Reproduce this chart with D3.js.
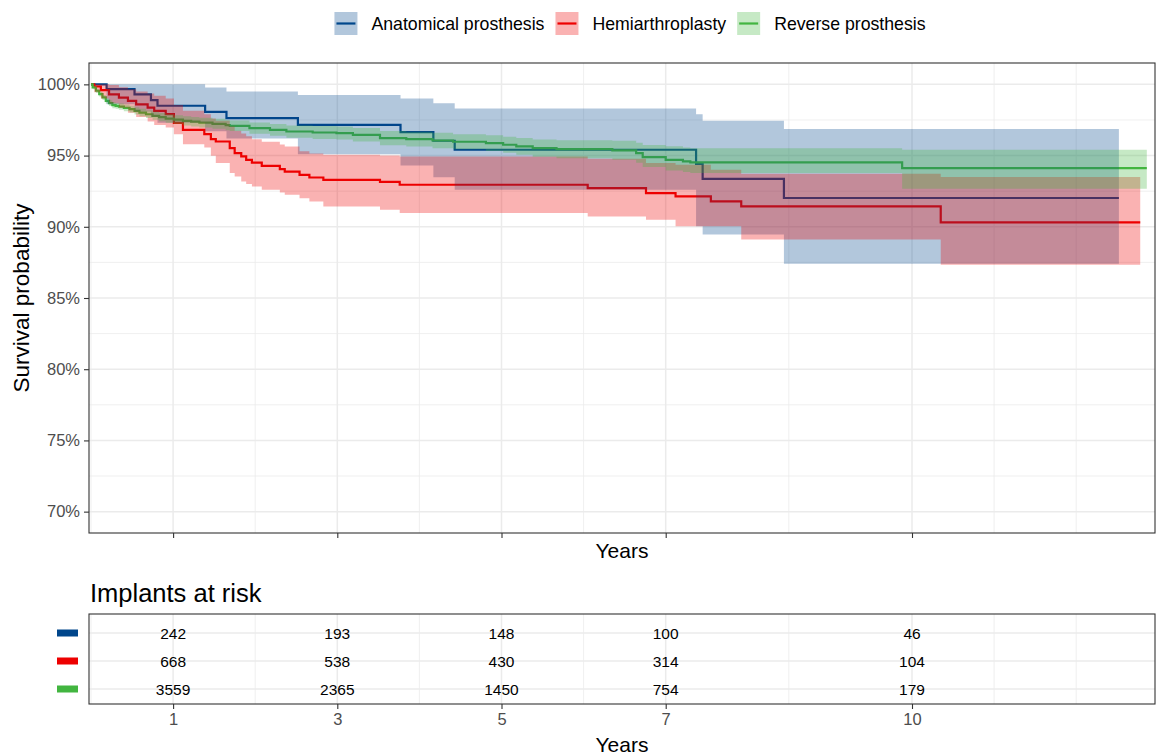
<!DOCTYPE html>
<html>
<head>
<meta charset="utf-8">
<script src="https://cdn.jsdelivr.net/npm/d3@7"></script>
<style>
  body { margin: 0; background: #fff; }
  text { font-family: "Liberation Sans", Arial, sans-serif; }
</style>
</head>
<body>
<svg id="chart" width="1156" height="756"></svg>
<script>
// ---- Kaplan-Meier estimates with 95% confidence bands (time in years) ----
const groups = ["Anatomical prosthesis", "Hemiarthroplasty", "Reverse prosthesis"];
const colors = ["#00468B", "#ED0000", "#42B540"];

const anatTime  = [0, 0.19, 0.53, 0.73, 0.81, 1.39, 1.65, 2.52, 3.77, 4.17, 4.43, 7.37, 7.45, 8.44, 12.52];
const anatSurv  = [1, 0.9966, 0.9930, 0.9890, 0.9850, 0.9807, 0.9763, 0.9716, 0.9665, 0.9604, 0.9541, 0.9442, 0.9337, 0.9202, 0.9202];
const anatUpper = [1, 1, 1, 1, 1, 0.9978, 0.9950, 0.9926, 0.9900, 0.9868, 0.9830, 0.9790, 0.9744, 0.9686, 0.9686];
const anatLower = [1, 0.9860, 0.9810, 0.9770, 0.9730, 0.9670, 0.9620, 0.9510, 0.9430, 0.9347, 0.9260, 0.9003, 0.8945, 0.8740, 0.8740];

const hemiTime  = [0, 0.04, 0.12, 0.22, 0.34, 0.45, 0.55, 0.69, 0.77, 0.91, 1.01, 1.12, 1.38, 1.46, 1.52, 1.69, 1.75, 1.83, 1.89, 1.96, 2.08, 2.30, 2.36, 2.54, 2.66, 2.83, 3.52, 3.76, 6.05, 6.76, 7.12, 7.55, 7.92, 10.35, 12.78];
const hemiSurv  = [1, 0.9985, 0.9960, 0.9930, 0.9907, 0.9884, 0.9860, 0.9837, 0.9814, 0.9791, 0.9730, 0.9680, 0.9650, 0.9616, 0.9599, 0.9552, 0.9517, 0.9494, 0.9470, 0.9450, 0.9428, 0.9405, 0.9388, 0.9365, 0.9346, 0.9330, 0.9315, 0.9295, 0.9272, 0.9237, 0.9213, 0.9178, 0.9143, 0.9031, 0.9031];
const hemiUpper = [1, 1, 1, 0.9995, 0.9980, 0.9965, 0.9950, 0.9935, 0.9920, 0.9900, 0.9855, 0.9815, 0.9790, 0.9760, 0.9745, 0.9705, 0.9675, 0.9655, 0.9635, 0.9615, 0.9597, 0.9577, 0.9563, 0.9530, 0.9515, 0.9505, 0.9500, 0.9494, 0.9477, 0.9447, 0.9435, 0.9400, 0.9372, 0.9349, 0.9349];
const hemiLower = [1, 0.9945, 0.9900, 0.9865, 0.9835, 0.9800, 0.9770, 0.9740, 0.9715, 0.9697, 0.9650, 0.9580, 0.9557, 0.9499, 0.9447, 0.9377, 0.9353, 0.9318, 0.9300, 0.9283, 0.9260, 0.9240, 0.9225, 0.9200, 0.9178, 0.9143, 0.9120, 0.9097, 0.9073, 0.9050, 0.9003, 0.9003, 0.8910, 0.8734, 0.8734];

const revTime  = [0, 0.02, 0.06, 0.10, 0.14, 0.18, 0.22, 0.26, 0.30, 0.34, 0.40, 0.47, 0.53, 0.59, 0.67, 0.75, 0.83, 0.91, 1.01, 1.12, 1.22, 1.32, 1.48, 1.64, 1.69, 1.93, 2.18, 2.38, 2.70, 2.99, 3.19, 3.52, 3.84, 4.16, 4.41, 4.81, 5.02, 5.18, 5.38, 5.67, 6.35, 6.64, 6.72, 7.00, 7.21, 7.30, 9.88, 12.86];
const revSurv  = [1, 0.9978, 0.9955, 0.9931, 0.9908, 0.9884, 0.9868, 0.9854, 0.9849, 0.9844, 0.9835, 0.9826, 0.9814, 0.9802, 0.9790, 0.9779, 0.9770, 0.9760, 0.9752, 0.9744, 0.9738, 0.9732, 0.9723, 0.9714, 0.9709, 0.9693, 0.9681, 0.9669, 0.9662, 0.9658, 0.9646, 0.9623, 0.9616, 0.9606, 0.9597, 0.9587, 0.9576, 0.9564, 0.9552, 0.9545, 0.9536, 0.9517, 0.9489, 0.9470, 0.9459, 0.9452, 0.9412, 0.9412];
const revUpper = [1, 0.9990, 0.9970, 0.9948, 0.9926, 0.9903, 0.9888, 0.9875, 0.9870, 0.9866, 0.9858, 0.9850, 0.9839, 0.9828, 0.9817, 0.9807, 0.9799, 0.9790, 0.9783, 0.9776, 0.9771, 0.9766, 0.9758, 0.9750, 0.9746, 0.9732, 0.9722, 0.9712, 0.9707, 0.9704, 0.9694, 0.9673, 0.9668, 0.9660, 0.9650, 0.9642, 0.9633, 0.9623, 0.9613, 0.9608, 0.9604, 0.9590, 0.9575, 0.9565, 0.9556, 0.9552, 0.9541, 0.9541];
const revLower = [1, 0.9966, 0.9940, 0.9914, 0.9890, 0.9865, 0.9848, 0.9833, 0.9828, 0.9822, 0.9812, 0.9802, 0.9789, 0.9776, 0.9763, 0.9751, 0.9741, 0.9730, 0.9721, 0.9712, 0.9705, 0.9698, 0.9688, 0.9678, 0.9672, 0.9654, 0.9640, 0.9626, 0.9617, 0.9612, 0.9598, 0.9573, 0.9564, 0.9552, 0.9544, 0.9532, 0.9519, 0.9505, 0.9491, 0.9482, 0.9471, 0.9450, 0.9420, 0.9395, 0.9385, 0.9378, 0.9267, 0.9267];

// ---- Number at risk ----
const riskYears = [1, 3, 5, 7, 10];
const anatRisk = [242, 193, 148, 100, 46];
const hemiRisk = [668, 538, 430, 314, 104];
const revRisk  = [3559, 2365, 1450, 754, 179];

// ---- Axis breaks ----
const xMajor = [1, 3, 5, 7, 10];
const xMinor = [0, 2, 4, 6, 8.5, 11, 12];
const yMajor = [0.70, 0.75, 0.80, 0.85, 0.90, 0.95, 1.00];
const yMinor = [0.725, 0.775, 0.825, 0.875, 0.925, 0.975];

const series = [
  { name: groups[0], color: colors[0], time: anatTime, surv: anatSurv, upper: anatUpper, lower: anatLower, risk: anatRisk },
  { name: groups[1], color: colors[1], time: hemiTime, surv: hemiSurv, upper: hemiUpper, lower: hemiLower, risk: hemiRisk },
  { name: groups[2], color: colors[2], time: revTime,  surv: revSurv,  upper: revUpper,  lower: revLower,  risk: revRisk }
].map(s => ({ ...s, rows: s.time.map((t, i) => ({ t, s: s.surv[i], u: s.upper[i], l: s.lower[i] })) }));

const svg = d3.select("#chart");
const panel = { left: 89, right: 1155, top: 63, bottom: 533 };
const table = { top: 614, bottom: 704 };

const x = d3.scaleLinear().domain([0, 13]).range([91, 91 + 13 * 82.1]);
const y = d3.scaleLinear().domain([0.685, 1.015]).range([panel.bottom, panel.top]);
const yRow = d3.scalePoint().domain(groups).range([633, 689]);

const gridCol = "#EBEBEB", borderCol = "#333333", tickTextCol = "#4D4D4D";

// ---- Survival panel grid ----
const grid = svg.append("g");
grid.selectAll(".ymin").data(yMinor).join("line")
  .attr("x1", panel.left).attr("x2", panel.right)
  .attr("y1", d => y(d)).attr("y2", d => y(d))
  .attr("stroke", gridCol).attr("stroke-width", 0.8);
grid.selectAll(".xmin").data(xMinor).join("line")
  .attr("x1", d => x(d)).attr("x2", d => x(d))
  .attr("y1", panel.top).attr("y2", panel.bottom)
  .attr("stroke", gridCol).attr("stroke-width", 0.8);
grid.selectAll(".ymaj").data(yMajor).join("line")
  .attr("x1", panel.left).attr("x2", panel.right)
  .attr("y1", d => y(d)).attr("y2", d => y(d))
  .attr("stroke", gridCol).attr("stroke-width", 1.5);
grid.selectAll(".xmaj").data(xMajor).join("line")
  .attr("x1", d => x(d)).attr("x2", d => x(d))
  .attr("y1", panel.top).attr("y2", panel.bottom)
  .attr("stroke", gridCol).attr("stroke-width", 1.5);

svg.append("clipPath").attr("id", "panelClip").append("rect")
  .attr("x", panel.left).attr("y", panel.top)
  .attr("width", panel.right - panel.left).attr("height", panel.bottom - panel.top);

const plot = svg.append("g").attr("clip-path", "url(#panelClip)");

const line = d3.line().x(d => x(d.t)).y(d => y(d.s)).curve(d3.curveStepAfter);
const area = d3.area().x(d => x(d.t)).y0(d => y(d.l)).y1(d => y(d.u)).curve(d3.curveStepAfter);

// survival steps first, confidence bands layered on top
plot.selectAll(".km").data(series).join("path")
  .attr("d", d => line(d.rows))
  .attr("fill", "none").attr("stroke", d => d.color).attr("stroke-width", 2.2);
plot.selectAll(".ci").data(series).join("path")
  .attr("d", d => area(d.rows))
  .attr("fill", d => d.color).attr("fill-opacity", 0.3).attr("stroke", "none");

svg.append("rect")
  .attr("x", panel.left).attr("y", panel.top)
  .attr("width", panel.right - panel.left).attr("height", panel.bottom - panel.top)
  .attr("fill", "none").attr("stroke", borderCol).attr("stroke-width", 1.1);

// y axis
const yAxis = svg.append("g").attr("transform", `translate(${panel.left},0)`)
  .call(d3.axisLeft(y).tickValues(yMajor).tickFormat(d3.format(".0%")).tickSize(5).tickPadding(4));
yAxis.select(".domain").remove();
yAxis.selectAll(".tick line").attr("stroke", borderCol).attr("stroke-width", 1.1);
yAxis.selectAll(".tick text").attr("fill", tickTextCol).style("font-size", "16.5px")
  .style("font-family", "'Liberation Sans', Arial, sans-serif");

// x ticks (no labels) under the survival panel
const xAxisTop = svg.append("g").attr("transform", `translate(0,${panel.bottom})`)
  .call(d3.axisBottom(x).tickValues(xMajor).tickFormat("").tickSize(5));
xAxisTop.select(".domain").remove();
xAxisTop.selectAll(".tick line").attr("stroke", borderCol).attr("stroke-width", 1.1);

svg.append("text").attr("x", (panel.left + panel.right) / 2).attr("y", 558)
  .attr("text-anchor", "middle").style("font-size", "21px").attr("fill", "#000").text("Years");

svg.append("text").attr("transform", `translate(29,${(panel.top + panel.bottom) / 2}) rotate(-90)`)
  .attr("text-anchor", "middle").style("font-size", "22.5px").attr("fill", "#000").text("Survival probability");

// ---- Legend ----
const legend = svg.append("g");
let lx = 0;
series.forEach(s => {
  const g = legend.append("g").attr("transform", `translate(${lx},0)`);
  g.append("rect").attr("x", 0).attr("y", 12).attr("width", 23).attr("height", 23)
    .attr("fill", s.color).attr("fill-opacity", 0.3);
  g.append("line").attr("x1", 2).attr("x2", 21).attr("y1", 23.5).attr("y2", 23.5)
    .attr("stroke", s.color).attr("stroke-width", 2.2);
  const t = g.append("text").attr("x", 37).attr("y", 30).style("font-size", "17.7px").attr("fill", "#000").text(s.name);
  const w = t.node().getComputedTextLength();
  lx += 37 + w + 11;
});
const legendWidth = lx - 11;
legend.attr("transform", `translate(${630 - legendWidth / 2},0)`);

// ---- Risk table ----
svg.append("text").attr("x", 90).attr("y", 602).style("font-size", "25.5px").attr("fill", "#000").text("Implants at risk");

const tg = svg.append("g");
tg.selectAll(".rmin").data(xMinor).join("line")
  .attr("x1", d => x(d)).attr("x2", d => x(d)).attr("y1", table.top).attr("y2", table.bottom)
  .attr("stroke", gridCol).attr("stroke-width", 0.8);
tg.selectAll(".rmaj").data(xMajor).join("line")
  .attr("x1", d => x(d)).attr("x2", d => x(d)).attr("y1", table.top).attr("y2", table.bottom)
  .attr("stroke", gridCol).attr("stroke-width", 1.5);
tg.selectAll(".rrow").data(groups).join("line")
  .attr("x1", panel.left).attr("x2", panel.right).attr("y1", d => yRow(d)).attr("y2", d => yRow(d))
  .attr("stroke", gridCol).attr("stroke-width", 1.5);

series.forEach(s => {
  tg.selectAll(null).data(riskYears.map((yr, i) => ({ yr, n: s.risk[i] }))).join("text")
    .attr("x", d => x(d.yr)).attr("y", yRow(s.name)).attr("dy", "0.36em")
    .attr("text-anchor", "middle").style("font-size", "15.5px").attr("fill", "#000")
    .text(d => d.n);
  tg.append("rect").attr("x", 57).attr("y", yRow(s.name) - 3.5).attr("width", 21).attr("height", 7)
    .attr("fill", s.color);
});

tg.append("rect").attr("x", panel.left).attr("y", table.top)
  .attr("width", panel.right - panel.left).attr("height", table.bottom - table.top)
  .attr("fill", "none").attr("stroke", borderCol).attr("stroke-width", 1.1);

const xAxisBottom = svg.append("g").attr("transform", `translate(0,${table.bottom})`)
  .call(d3.axisBottom(x).tickValues(riskYears).tickFormat(d3.format("d")).tickSize(5).tickPadding(4));
xAxisBottom.select(".domain").remove();
xAxisBottom.selectAll(".tick line").attr("stroke", borderCol).attr("stroke-width", 1.1);
xAxisBottom.selectAll(".tick text").attr("fill", tickTextCol).style("font-size", "16.5px")
  .style("font-family", "'Liberation Sans', Arial, sans-serif");

svg.append("text").attr("x", (panel.left + panel.right) / 2).attr("y", 752)
  .attr("text-anchor", "middle").style("font-size", "21px").attr("fill", "#000").text("Years");
</script>
</body>
</html>
